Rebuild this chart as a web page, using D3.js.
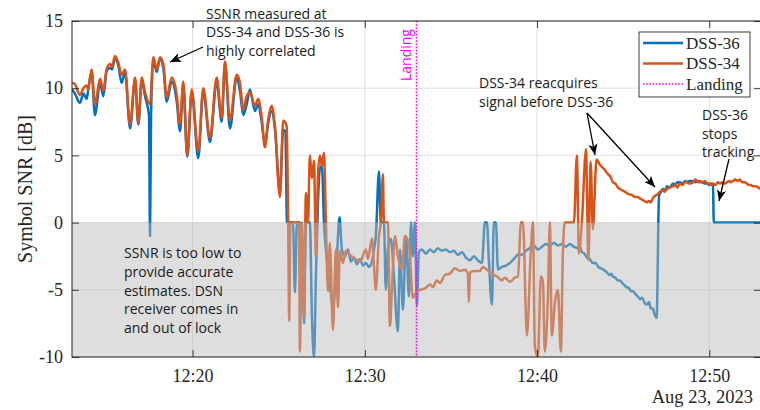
<!DOCTYPE html>
<html>
<head>
<meta charset="utf-8">
<script src="https://cdn.jsdelivr.net/npm/d3@7"></script>
<style>
  body { margin: 0; background: #fff; }
  svg { display: block; }
</style>
</head>
<body>
<div id="chart"></div>
<script>
// minutes after 12:00 UTC, symbol SNR in dB
const dss36 = [
  [13.00,9.9],[13.17,9.6],[13.46,8.9],[13.66,9.6],[13.85,9.2],[13.93,9.8],[14.14,11.2],[14.33,8.0],[14.63,10.4],[14.82,9.4],
  [15.01,11.3],[15.21,11.5],[15.32,11.4],[15.50,12.2],[15.69,11.7],[15.88,10.4],[16.08,11.2],[16.37,7.0],[16.66,10.6],[16.85,7.3],
  [17.05,10.6],[17.24,9.4],[17.47,8.0],[17.53,-1.0],[17.59,8.0],[17.72,12.1],[17.92,11.2],[18.11,12.2],[18.30,11.5],[18.50,9.0],
  [18.79,10.5],[19.08,9.0],[19.27,6.8],[19.46,10.2],[19.69,4.9],[19.95,9.7],[20.33,4.8],[20.62,9.8],[21.01,6.0],[21.40,10.5],
  [21.69,7.5],[21.88,11.8],[22.17,7.0],[22.56,10.8],[22.75,9.8],[22.94,8.0],[23.14,8.8],[23.33,9.9],[23.62,8.3],[23.81,8.8],
  [24.01,7.5],[24.20,5.8],[24.39,7.4],[24.59,8.3],[24.78,7.0],[25.07,2.3],[25.26,6.9],[25.39,6.8],[25.48,0],[25.83,0],
  [25.94,-5.2],[26.06,0],[26.23,0],[26.35,-1.0],[26.47,-7.5],[26.58,0],[26.81,0],[26.93,-7.0],[27.05,-10],[27.16,-4.0],
  [27.28,1.5],[27.39,4.0],[27.51,4.2],[27.63,0],[27.74,-2.0],[27.92,-4.0],[28.15,-6.2],[28.38,-2.5],[28.53,0.4],[28.67,-2.0],
  [28.85,-2.5],[29.02,-2.0],[29.19,-2.9],[29.37,-2.6],[29.54,-3.1],[29.72,-2.7],[29.89,-3.2],[30.06,-3.0],[30.24,-3.3],[30.41,-2.9],
  [30.53,-2.0],[30.64,-1.0],[30.82,3.8],[30.93,0],[31.11,0],[31.22,-5.0],[31.34,-2.0],[31.51,-1.2],[31.69,-4.0],[31.92,-8.1],
  [32.04,-2.0],[32.21,-6.5],[32.39,-1.0],[32.56,-5.5],[32.68,0],[32.79,-2.5],[32.91,0],[33.02,-6.2],[33.14,-2.2],[33.31,-2.0],
  [33.54,-2.3],[33.78,-2.0],[34.01,-2.2],[34.24,-1.9],[34.47,-2.1],[34.71,-2.0],[34.94,-2.2],[35.17,-2.1],[35.40,-2.4],[35.64,-2.2],
  [35.87,-2.6],[36.10,-2.8],[36.33,-2.5],[36.56,-2.8],[36.80,-3.0],[36.97,0],[37.09,0],[37.20,-2.8],[37.38,-6.1],[37.49,0],
  [37.61,0],[37.73,-3.5],[37.96,-3.3],[38.19,-3.2],[38.42,-3.0],[38.66,-2.7],[38.89,-2.4],[39.12,-2.4],[39.35,-2.1],[39.58,-1.9],
  [39.81,-1.7],[40.05,-2.0],[40.28,-1.8],[40.51,-1.6],[40.74,-1.7],[40.98,-1.5],[41.21,-1.7],[41.44,-1.6],[41.67,-1.8],[41.90,-1.6],
  [42.14,-1.8],[42.37,-1.9],[42.50,-1.8],[42.60,-2.2],[42.75,-2.3],[42.89,-2.6],[43.05,-2.7],[43.24,-3.0],[43.40,-3.0],[43.55,-3.3],
  [43.70,-3.4],[43.85,-3.5],[44.05,-3.7],[44.20,-3.9],[44.30,-3.8],[44.40,-4.0],[44.55,-4.1],[44.70,-4.3],[44.81,-4.3],[44.95,-4.5],
  [45.10,-4.7],[45.21,-4.8],[45.35,-4.9],[45.45,-5.1],[45.56,-5.1],[45.70,-5.3],[45.85,-5.5],[45.97,-5.7],[46.10,-5.6],[46.25,-6.0],
  [46.37,-6.1],[46.50,-5.9],[46.60,-6.4],[46.72,-6.4],[46.84,-6.9],[46.94,-7.1],[47.08,2.0],[47.20,2.3],[47.31,2.5],[47.45,2.4],
  [47.54,2.7],[47.70,2.6],[47.89,2.9],[48.00,2.8],[48.15,3.0],[48.29,3.0],[48.45,2.9],[48.60,3.1],[48.70,3.0],[48.85,3.1],
  [49.05,3.1],[49.20,3.0],[49.35,3.1],[49.45,3.0],[49.60,3.0],[49.75,2.9],[49.86,2.9],[50.00,2.8],[50.10,2.9],[50.21,2.8],
  [50.26,0],[53.00,0]
];

const dss34 = [
  [13.00,10.4],[13.17,10.3],[13.46,9.5],[13.66,10.0],[13.85,10.2],[13.93,9.9],[14.14,11.4],[14.33,8.8],[14.63,10.7],[14.82,9.8],
  [15.01,11.4],[15.21,11.8],[15.32,11.6],[15.50,12.4],[15.69,11.9],[15.88,11.0],[16.08,11.4],[16.37,7.3],[16.66,10.8],[16.85,7.4],
  [17.05,10.8],[17.24,9.7],[17.53,8.8],[17.72,12.3],[17.92,11.4],[18.11,12.3],[18.30,11.8],[18.50,9.3],[18.79,10.8],[19.08,9.5],
  [19.27,7.3],[19.46,10.5],[19.69,5.0],[19.95,9.9],[20.33,5.3],[20.62,10.0],[21.01,6.3],[21.40,10.8],[21.69,7.8],[21.88,12.0],
  [22.17,7.6],[22.56,11.0],[22.75,10.4],[22.94,8.4],[23.14,9.4],[23.33,9.7],[23.62,8.7],[23.81,9.2],[24.01,7.9],[24.20,5.6],
  [24.39,7.7],[24.59,8.7],[24.78,7.2],[25.07,1.9],[25.26,7.6],[25.46,7.2],[25.55,0],[25.61,-7.3],[25.68,0],[26.18,0],
  [26.23,-9.6],[26.35,0],[26.47,-7.0],[26.58,2.2],[26.70,0],[26.81,5.0],[26.93,3.3],[27.05,4.6],[27.16,-2.5],[27.28,3.5],
  [27.39,5.0],[27.51,4.2],[27.63,5.2],[27.74,0],[27.86,-5.1],[27.97,-1.5],[28.15,-8.0],[28.32,-2.0],[28.44,-6.3],[28.55,-2.1],
  [28.73,-3.0],[28.90,-2.1],[29.13,-2.4],[29.43,-2.7],[29.72,-2.9],[30.06,-2.0],[30.18,-2.7],[30.41,-1.2],[30.53,-3.2],[30.64,-5.0],
  [30.82,-1.0],[30.93,0],[31.05,3.6],[31.11,0],[31.34,0],[31.46,-7.7],[31.57,-5.0],[31.75,-1.0],[31.92,-2.5],[32.15,-3.5],
  [32.33,-1.0],[32.56,-1.6],[32.79,-5.6],[32.97,-5.2],[33.20,-5.0],[33.49,-4.9],[33.78,-4.6],[33.95,-4.8],[34.18,-4.3],[34.36,-4.5],
  [34.65,-3.9],[34.94,-3.8],[35.23,-3.4],[35.52,-3.6],[35.81,-3.5],[35.98,-3.8],[36.04,-5.9],[36.10,-3.7],[36.39,-3.6],[36.68,-3.6],
  [36.85,-3.3],[37.09,-3.5],[37.38,-3.8],[37.67,-4.0],[37.96,-4.3],[38.13,-4.1],[38.42,-4.4],[38.71,-4.1],[38.89,-4.0],[39.06,0],
  [39.18,0],[39.41,-8.4],[39.64,-2.0],[39.76,0],[39.87,-9.2],[40.05,-10],[40.22,-4.0],[40.34,-4.4],[40.45,-9.6],[40.63,-5.5],
  [40.74,0],[40.86,-8.4],[41.03,-6.0],[41.21,-5.0],[41.38,-9.6],[41.50,-2.2],[41.61,0],[42.14,0],[42.31,5.0],[42.43,-2.3],
  [42.60,0],[42.84,5.45],[42.98,-2.8],[43.11,4.5],[43.24,-0.5],[43.45,4.7],[43.65,4.3],[43.80,4.1],[43.95,3.9],[44.05,3.7],
  [44.20,3.5],[44.30,3.3],[44.40,3.0],[44.55,2.9],[44.70,2.6],[44.81,2.5],[44.95,2.4],[45.10,2.3],[45.21,2.2],[45.35,2.1],
  [45.45,2.1],[45.56,2.0],[45.70,1.9],[45.85,1.9],[45.97,1.8],[46.10,1.7],[46.25,1.6],[46.37,1.5],[46.50,1.6],[46.60,1.5],
  [46.72,1.8],[46.85,2.0],[47.00,2.1],[47.14,2.3],[47.30,2.4],[47.42,2.3],[47.54,2.5],[47.70,2.6],[47.89,2.7],[48.05,2.8],
  [48.15,2.6],[48.29,2.9],[48.45,2.8],[48.60,3.0],[48.70,3.0],[48.85,2.9],[49.05,3.0],[49.20,3.2],[49.35,3.0],[49.45,3.1],
  [49.60,3.0],[49.75,3.1],[49.86,2.9],[50.00,2.9],[50.10,2.8],[50.21,2.9],[50.35,2.8],[50.50,3.0],[50.61,2.9],[50.75,3.0],
  [50.90,2.9],[51.02,3.0],[51.15,3.1],[51.25,3.0],[51.37,3.1],[51.50,3.2],[51.65,3.1],[51.77,3.2],[51.90,3.0],[52.05,3.0],
  [52.18,2.9],[52.30,2.8],[52.40,2.8],[52.53,2.7],[52.70,2.7],[52.85,2.6],[53.00,2.5]
];

const landingMinute = 33;
const xTickMinutes = [20, 30, 40, 50];
const yTicks = [-10, -5, 0, 5, 10, 15];
const xDomainMinutes = [13, 53];
const dateLabel = "Aug 23, 2023";

// minute offset -> Date on landing day
const toTime = m => new Date(new Date(2023, 7, 23, 12, 0, 0).getTime() + m * 60000);

const width = 760, height = 410;
const plot = { left: 72, right: 761, top: 21, bottom: 357 };
const ink = "#262626";
const serif = "'Liberation Serif', 'Times New Roman', serif";
const sans = "'Open Sans', 'Noto Sans', sans-serif";

const svg = d3.select("#chart").append("svg")
    .attr("width", width)
    .attr("height", height);

const x = d3.scaleTime()
    .domain(xDomainMinutes.map(toTime))
    .range([plot.left, plot.right]);

const y = d3.scaleLinear()
    .domain([-10, 15])
    .range([plot.bottom, plot.top]);

const defs = svg.append("defs");
defs.append("clipPath").attr("id", "clip")
  .append("rect")
    .attr("x", plot.left).attr("y", plot.top)
    .attr("width", plot.right - plot.left).attr("height", plot.bottom - plot.top);

defs.append("marker")
    .attr("id", "head")
    .attr("viewBox", "0 0 10 10")
    .attr("refX", 10).attr("refY", 5)
    .attr("markerWidth", 11).attr("markerHeight", 11)
    .attr("markerUnits", "userSpaceOnUse")
    .attr("orient", "auto")
  .append("path")
    .attr("d", "M0,0.8 L10,5 L0,9.2 L2.5,5 Z")
    .attr("fill", "#000");

// grid
const grid = svg.append("g");
grid.selectAll(".gx").data(xTickMinutes).enter().append("line")
    .attr("x1", d => x(toTime(d))).attr("x2", d => x(toTime(d)))
    .attr("y1", plot.top).attr("y2", plot.bottom)
    .attr("stroke", "#dfdfdf").attr("stroke-width", 1);
grid.selectAll(".gy").data(yTicks).enter().append("line")
    .attr("x1", plot.left).attr("x2", plot.right)
    .attr("y1", d => y(d)).attr("y2", d => y(d))
    .attr("stroke", "#dfdfdf").attr("stroke-width", 1);

// series
const line = d3.line()
    .x(d => x(toTime(d[0])))
    .y(d => y(d[1]))
    .curve(d3.curveMonotoneX);

const series = [
  { name: "DSS-36", data: dss36, color: "#0072BD" },
  { name: "DSS-34", data: dss34, color: "#D95319" }
];

const lines = svg.append("g").attr("clip-path", "url(#clip)");
series.forEach(s => {
  lines.append("path")
      .datum(s.data)
      .attr("d", line)
      .attr("fill", "none")
      .attr("stroke", s.color)
      .attr("stroke-width", 2.5)
      .attr("stroke-linejoin", "round");
});

// shaded low-SNR band (drawn over the data)
svg.append("rect")
    .attr("x", plot.left)
    .attr("y", y(0))
    .attr("width", plot.right - plot.left)
    .attr("height", y(-10) - y(0))
    .attr("fill", "rgb(187,187,187)")
    .attr("fill-opacity", 0.48);

// landing marker
svg.append("line")
    .attr("x1", x(toTime(landingMinute))).attr("x2", x(toTime(landingMinute)))
    .attr("y1", plot.top).attr("y2", plot.bottom)
    .attr("stroke", "#ff00ff")
    .attr("stroke-width", 1.6)
    .attr("stroke-dasharray", "1.6,1.6");

svg.append("text")
    .attr("transform", `translate(${x(toTime(landingMinute)) - 6},81) rotate(-90)`)
    .attr("font-family", sans)
    .attr("font-size", "14px")
    .attr("fill", "#ff00ff")
    .text("Landing");

// axes
const fmt = d3.timeFormat("%H:%M");
const xAxis = svg.append("g")
    .attr("transform", `translate(0,${plot.bottom})`)
    .call(d3.axisBottom(x).tickValues(xTickMinutes.map(toTime)).tickFormat(fmt)
      .tickSizeInner(-7).tickSizeOuter(0).tickPadding(12));
const xTop = svg.append("g")
    .attr("transform", `translate(0,${plot.top})`)
    .call(d3.axisTop(x).tickValues(xTickMinutes.map(toTime)).tickFormat("")
      .tickSizeInner(-7).tickSizeOuter(0));
const yAxis = svg.append("g")
    .attr("transform", `translate(${plot.left},0)`)
    .call(d3.axisLeft(y).tickValues(yTicks).tickFormat(d => d < 0 ? "-" + Math.abs(d) : d)
      .tickSizeInner(-7).tickSizeOuter(0).tickPadding(9));
const yRight = svg.append("g")
    .attr("transform", `translate(${plot.right},0)`)
    .call(d3.axisRight(y).tickValues(yTicks).tickFormat("")
      .tickSizeInner(-7).tickSizeOuter(0));

[xAxis, xTop, yAxis, yRight].forEach(g => {
  g.select(".domain").remove();
  g.selectAll(".tick line").attr("stroke", ink).attr("stroke-width", 0.9);
  g.selectAll(".tick text")
      .attr("fill", ink)
      .attr("font-family", serif)
      .attr("font-size", "18px");
});

svg.append("rect")
    .attr("x", plot.left).attr("y", plot.top)
    .attr("width", plot.right - plot.left).attr("height", plot.bottom - plot.top)
    .attr("fill", "none")
    .attr("stroke", ink)
    .attr("stroke-width", 1);

svg.append("text")
    .attr("transform", `translate(32,${(plot.top + plot.bottom) / 2}) rotate(-90)`)
    .attr("text-anchor", "middle")
    .attr("font-family", serif)
    .attr("font-size", "20px")
    .attr("fill", ink)
    .text("Symbol SNR [dB]");

svg.append("text")
    .attr("x", 753).attr("y", 403)
    .attr("text-anchor", "end")
    .attr("font-family", serif)
    .attr("font-size", "18.5px")
    .attr("fill", ink)
    .text(dateLabel);

// annotations
const notes = [
  { x: 206, y: 18.5, lines: ["SSNR measured at", "DSS-34 and DSS-36 is", "highly correlated"] },
  { x: 124, y: 258.3, lines: ["SSNR is too low to", "provide accurate", "estimates. DSN", "receiver comes in", "and out of lock"] },
  { x: 479, y: 88, lines: ["DSS-34 reacquires", "signal before DSS-36"] },
  { x: 702, y: 120, lines: ["DSS-36", "stops", "tracking"] }
];

notes.forEach(n => {
  const t = svg.append("text")
      .attr("font-family", sans)
      .attr("font-size", "14px")
      .attr("fill", "#1a1a1a");
  n.lines.forEach((l, i) => {
    t.append("tspan").attr("x", n.x).attr("y", n.y + i * 18.7).text(l);
  });
});

const arrows = [
  [203, 47, 170, 62],
  [587, 113, 595, 155],
  [587, 113, 655, 187],
  [729, 159, 719, 201]
];

svg.selectAll(".arrow").data(arrows).enter().append("line")
    .attr("x1", d => d[0]).attr("y1", d => d[1])
    .attr("x2", d => d[2]).attr("y2", d => d[3])
    .attr("stroke", "#000")
    .attr("stroke-width", 1.3)
    .attr("marker-end", "url(#head)");

// legend
const legend = svg.append("g").attr("transform", "translate(639,32)");
legend.append("rect")
    .attr("width", 111).attr("height", 65)
    .attr("fill", "#fff")
    .attr("stroke", ink)
    .attr("stroke-width", 0.9);

const legendItems = [
  { name: "DSS-36", color: "#0072BD", dash: null, w: 2.5 },
  { name: "DSS-34", color: "#D95319", dash: null, w: 2.5 },
  { name: "Landing", color: "#ff00ff", dash: "1.6,1.6", w: 1.6 }
];

legendItems.forEach((d, i) => {
  const ly = 11 + i * 20.5;
  legend.append("line")
      .attr("x1", 4).attr("x2", 44)
      .attr("y1", ly).attr("y2", ly)
      .attr("stroke", d.color)
      .attr("stroke-width", d.w)
      .attr("stroke-dasharray", d.dash);
  legend.append("text")
      .attr("x", 47).attr("y", ly)
      .attr("dy", "0.33em")
      .attr("font-family", serif)
      .attr("font-size", "17px")
      .attr("fill", ink)
      .text(d.name);
});
</script>
</body>
</html>
